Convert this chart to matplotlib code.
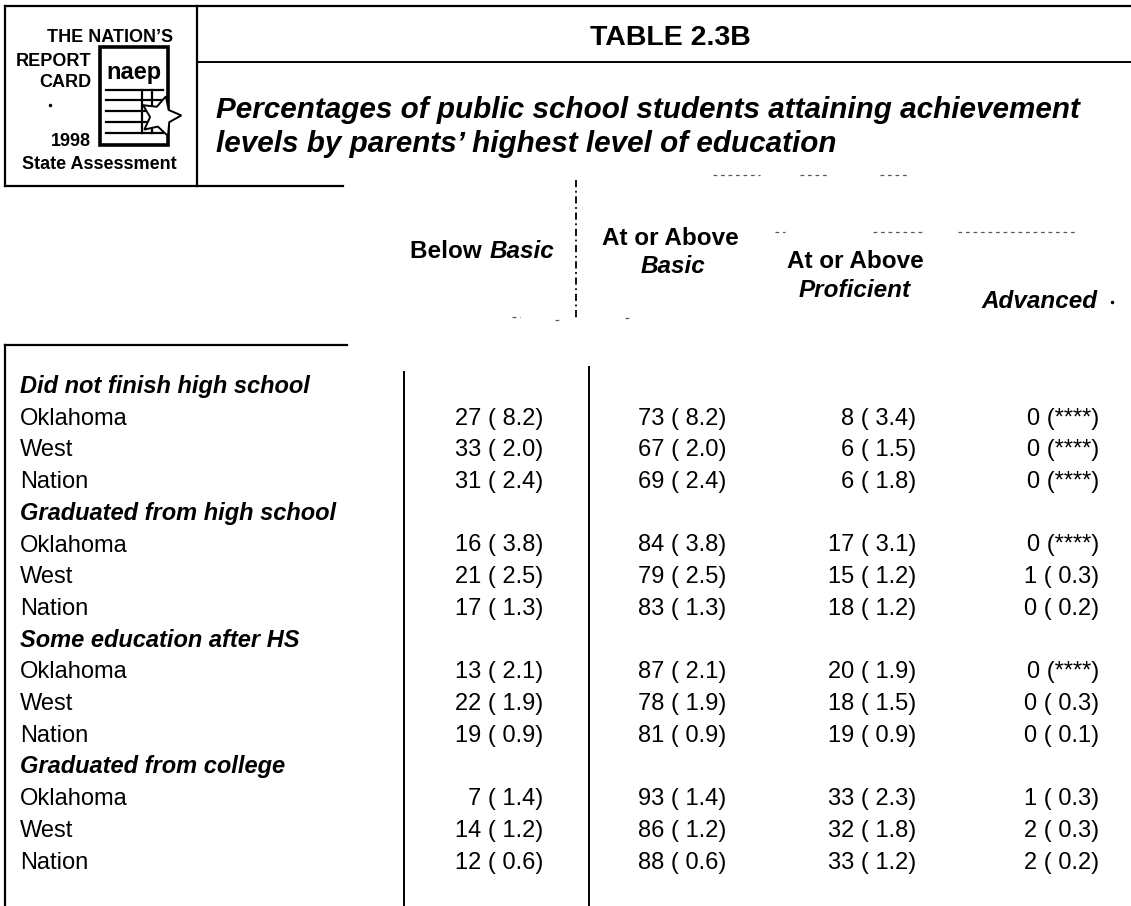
import matplotlib
matplotlib.use("Agg")
import matplotlib.pyplot as plt
from matplotlib import font_manager

# table values (percent, standard error); None = "****"
groups = ["Did not finish high school", "Graduated from high school",
          "Some education after HS", "Graduated from college"]
places = ["Oklahoma", "West", "Nation"]

below_basic = [27, 33, 31, 16, 21, 17, 13, 22, 19, 7, 14, 12]
below_basic_se = [8.2, 2.0, 2.4, 3.8, 2.5, 1.3, 2.1, 1.9, 0.9, 1.4, 1.2, 0.6]
at_basic = [73, 67, 69, 84, 79, 83, 87, 78, 81, 93, 86, 88]
at_basic_se = [8.2, 2.0, 2.4, 3.8, 2.5, 1.3, 2.1, 1.9, 0.9, 1.4, 1.2, 0.6]
proficient = [8, 6, 6, 17, 15, 18, 20, 18, 19, 33, 32, 33]
proficient_se = [3.4, 1.5, 1.8, 3.1, 1.2, 1.2, 1.9, 1.5, 0.9, 2.3, 1.8, 1.2]
advanced = [0, 0, 0, 0, 1, 0, 0, 0, 0, 1, 2, 2]
advanced_se = [None, None, None, None, 0.3, 0.2, None, 0.3, 0.1, 0.3, 0.3, 0.2]

title = "TABLE 2.3B"
subtitle = ["Percentages of public school students attaining achievement",
            "levels by parents\u2019 highest level of education"]

installed = {f.name for f in font_manager.fontManager.ttflist}
SANS = ["Liberation Sans", "DejaVu Sans"]
NARROW = ["Liberation Sans Narrow"] + SANS if "Liberation Sans Narrow" in installed else SANS
plt.rcParams["font.family"] = SANS


def cell(v, se):
    if se is None:
        return f"{v} (****)"
    return f"{v} ( {se:.1f})"


fig = plt.figure(figsize=(11.31, 9.06), dpi=100)
ax = fig.add_axes([0, 0, 1, 1])
ax.set_xlim(0, 1131)
ax.set_ylim(906, 0)
ax.axis("off")

k = "black"
# frame lines of the header
ax.plot([5, 1131], [6, 6], color=k, lw=1.6)
ax.plot([5, 5], [6, 186], color=k, lw=1.6)
ax.plot([197, 197], [6, 186], color=k, lw=1.6)
ax.plot([197, 1131], [62, 62], color=k, lw=1.4)
ax.plot([5, 343], [186, 186], color=k, lw=1.6)

# logo
nsz = 15 if NARROW is not SANS else 13
ax.text(173, 42, "THE NATION\u2019S", ha="right", va="baseline", fontsize=nsz,
        fontweight="bold", family=NARROW)
ax.text(91, 66, "REPORT", ha="right", va="baseline", fontsize=nsz,
        fontweight="bold", family=NARROW)
ax.text(91, 87, "CARD", ha="right", va="baseline", fontsize=nsz,
        fontweight="bold", family=NARROW)
ax.text(91, 146, "1998", ha="right", va="baseline", fontsize=nsz,
        fontweight="bold", family=NARROW)
ax.text(99, 169, "State Assessment", ha="center", va="baseline", fontsize=nsz,
        fontweight="bold", family=NARROW)
ax.plot([50], [105], marker="o", ms=1.5, color=k)
ax.add_patch(plt.Rectangle((100, 47), 68, 98, fill=False, ec=k, lw=2.6))
ax.text(134, 79, "naep", ha="center", va="baseline", fontsize=17,
        fontweight="heavy", family=NARROW)
for yy in [90, 100, 111, 122, 133]:
    ax.plot([106, 163], [yy, yy], color=k, lw=1.6)
for xx in [142, 152]:
    ax.plot([xx, xx], [90, 133], color=k, lw=1.6)
ax.plot([160], [116], marker=(5, 1, -15), ms=30, mfc="white", mec=k, mew=1.4)

# title block
ax.text(670, 45, title, ha="center", va="baseline", fontsize=20.5,
        fontweight="bold")
ax.text(216, 118, subtitle[0], ha="left", va="baseline", fontsize=21.3,
        fontweight="bold", style="italic")
ax.text(216, 152, subtitle[1], ha="left", va="baseline", fontsize=21.3,
        fontweight="bold", style="italic")

# column headers
hs = 17.5
ax.text(410, 258, "Below ", ha="left", va="baseline", fontsize=hs, fontweight="bold")
ax.text(490, 258, "Basic", ha="left", va="baseline", fontsize=hs,
        fontweight="bold", style="italic")
ax.text(670, 245, "At or Above", ha="center", va="baseline", fontsize=hs, fontweight="bold")
ax.text(673, 273, "Basic", ha="center", va="baseline", fontsize=hs,
        fontweight="bold", style="italic")
ax.text(855, 268, "At or Above", ha="center", va="baseline", fontsize=hs, fontweight="bold")
ax.text(855, 297, "Proficient", ha="center", va="baseline", fontsize=hs,
        fontweight="bold", style="italic")
ax.text(1040, 308, "Advanced", ha="center", va="baseline", fontsize=hs,
        fontweight="bold", style="italic")
ax.plot([1112], [302], marker="o", ms=1.5, color=k)

# dashed divider and faint scan marks in the header
ax.plot([576, 576], [180, 318], color=k, lw=1.3, ls=(0, (4, 2, 1, 2)))
for x0, x1, yy in [(775, 785, 232), (873, 922, 232), (958, 1078, 232),
                   (713, 760, 175), (800, 830, 175), (880, 907, 175),
                   (512, 520, 317), (555, 562, 320), (625, 632, 318)]:
    ax.plot([x0, x1], [yy, yy], color="0.35", lw=0.9, ls=(0, (3, 3)))

# body frame
ax.plot([5, 347], [345, 345], color=k, lw=1.6)
ax.plot([5, 5], [345, 906], color=k, lw=1.6)
ax.plot([404, 404], [372, 906], color=k, lw=1.4)
ax.plot([589, 589], [367, 906], color=k, lw=1.4)

# rows
cols = [(543, below_basic, below_basic_se), (726, at_basic, at_basic_se),
        (916, proficient, proficient_se), (1099, advanced, advanced_se)]
bs = 17
step = 31.7
y = 393
i = 0
for g in groups:
    ax.text(20, y, g, ha="left", va="baseline", fontsize=bs,
            fontweight="bold", style="italic")
    y += step
    for p in places:
        ax.text(20, y, p, ha="left", va="baseline", fontsize=bs)
        for xr, vals, ses in cols:
            ax.text(xr, y, cell(vals[i], ses[i]), ha="right", va="baseline", fontsize=bs)
        y += step
        i += 1

fig.savefig("out.png", dpi=100)
